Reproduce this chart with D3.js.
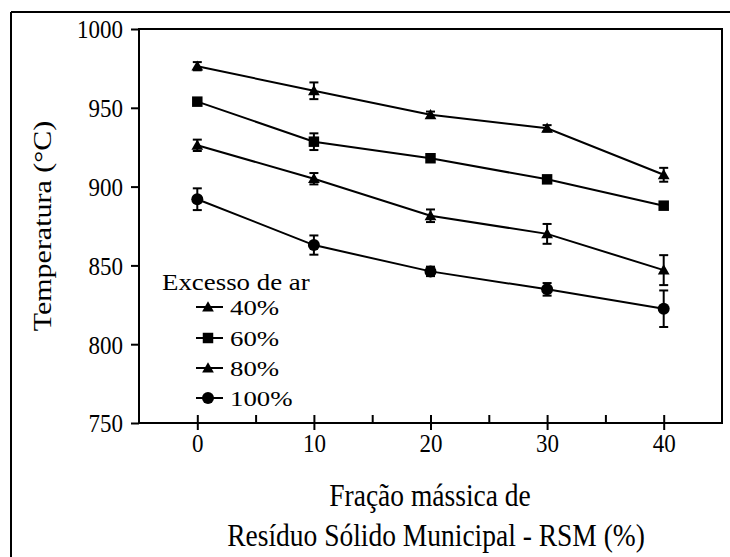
<!DOCTYPE html>
<html><head><meta charset="utf-8">
<script src="https://cdn.jsdelivr.net/npm/d3@7"></script>
<style>
html,body{margin:0;padding:0;background:#fff;}
svg{display:block;}
text{font-family:"Liberation Serif","Times New Roman",serif;fill:#000;}
</style></head>
<body>
<svg id="c" width="730" height="557"></svg>
<script>
const xValues = [0, 10, 20, 30, 40];
const seriesNames = ["40%", "60%", "80%", "100%"];
const seriesSymbols = ["triangle", "square", "triangle", "circle"];
const t40 = [976.4, 960.8, 945.6, 937.0, 907.5];
const e40 = [2.6, 5.3, 2.0, 2.0, 4.4];
const t60 = [953.9, 928.5, 918.0, 904.6, 887.9];
const e60 = [1.5, 5.3, 2.0, 2.0, 2.0];
const t80 = [926.2, 905.0, 881.5, 870.0, 847.0];
const e80 = [3.6, 3.6, 4.0, 6.3, 9.5];
const t100 = [892.0, 862.9, 846.2, 834.8, 822.5];
const e100 = [6.9, 6.1, 3.0, 4.0, 11.6];
const yTicks = [750, 800, 850, 900, 950, 1000];
const xTicks = [0, 10, 20, 30, 40];
const xMinorTicks = [5, 15, 25, 35];
const legendTitle = "Excesso de ar";
const yTitle = "Temperatura (°C)";
const xTitle1 = "Fração mássica de";
const xTitle2 = "Resíduo Sólido Municipal - RSM (%)";

const values = [t40, t60, t80, t100];
const errors = [e40, e60, e80, e100];

const svg = d3.select("#c");
const L = 139, R = 722, T = 29, B = 423;
const x = d3.scaleLinear().domain([-5, 45]).range([L, R]);
const y = d3.scaleLinear().domain([750, 1000]).range([B, T]);

// outer frame (left + top)
svg.append("line").attr("x1", 11).attr("x2", 11).attr("y1", 12).attr("y2", 557)
  .attr("stroke", "#000").attr("stroke-width", 2);
svg.append("line").attr("x1", 11).attr("x2", 730).attr("y1", 12).attr("y2", 12)
  .attr("stroke", "#000").attr("stroke-width", 2);

// plot box
svg.append("rect").attr("x", L).attr("y", T).attr("width", R - L).attr("height", B - T)
  .attr("fill", "none").attr("stroke", "#000").attr("stroke-width", 2);

// y axis
const gy = svg.append("g").attr("transform", `translate(${L},0)`)
  .call(d3.axisLeft(y).tickValues(yTicks).tickSize(8).tickPadding(8).tickFormat(d3.format("d")));
gy.select(".domain").remove();
gy.selectAll(".tick line").attr("stroke-width", 2);
gy.selectAll(".tick text").attr("font-size", 23).attr("dy", null)
  .attr("transform", "scale(1,1.12)").attr("y", 0)
  .attr("dominant-baseline", "central");

// x axis major (down)
const gx = svg.append("g").attr("transform", `translate(0,${B})`)
  .call(d3.axisBottom(x).tickValues(xTicks).tickSize(7).tickPadding(6).tickFormat(d3.format("d")));
gx.select(".domain").remove();
gx.selectAll(".tick line").attr("stroke-width", 2);
gx.selectAll(".tick text").attr("font-size", 23).attr("dy", null).attr("y", 0)
  .attr("transform", "translate(0,29) scale(1,1.12)");
// x axis major (up)
const gx2 = svg.append("g").attr("transform", `translate(0,${B})`)
  .call(d3.axisBottom(x).tickValues(xTicks).tickSize(-8).tickFormat(""));
gx2.select(".domain").remove();
gx2.selectAll(".tick line").attr("stroke-width", 2);
// x minor (up)
const gx3 = svg.append("g").attr("transform", `translate(0,${B})`)
  .call(d3.axisBottom(x).tickValues(xMinorTicks).tickSize(-8).tickFormat(""));
gx3.select(".domain").remove();
gx3.selectAll(".tick line").attr("stroke-width", 2);

// series
const line = d3.line().x((d, i) => x(xValues[i])).y(d => y(d));
function drawSymbol(g, type, cx, cy) {
  if (type === "triangle") {
    g.append("path").attr("d", d3.symbol(d3.symbolTriangle, 60)())
      .attr("transform", `translate(${cx},${cy + 1})`).attr("fill", "#000");
  } else if (type === "square") {
    g.append("path").attr("d", d3.symbol(d3.symbolSquare, 110)())
      .attr("transform", `translate(${cx},${cy})`).attr("fill", "#000");
  } else {
    g.append("circle").attr("cx", cx).attr("cy", cy).attr("r", 6).attr("fill", "#000");
  }
}
values.forEach((vals, si) => {
  const g = svg.append("g");
  g.append("path").attr("d", line(vals)).attr("fill", "none")
    .attr("stroke", "#000").attr("stroke-width", 2);
  vals.forEach((v, i) => {
    const cx = x(xValues[i]), e = errors[si][i];
    const y1 = y(v + e), y2 = y(v - e);
    g.append("line").attr("x1", cx).attr("x2", cx).attr("y1", y1).attr("y2", y2)
      .attr("stroke", "#000").attr("stroke-width", 2);
    [y1, y2].forEach(yy => g.append("line").attr("x1", cx - 4.5).attr("x2", cx + 4.5)
      .attr("y1", yy).attr("y2", yy).attr("stroke", "#000").attr("stroke-width", 2));
    drawSymbol(g, seriesSymbols[si], cx, y(v));
  });
});

// legend
const lg = svg.append("g");
lg.append("text").attr("font-size", 24)
  .attr("transform", "translate(162,290) scale(1.12,1)").text(legendTitle);
const legY = [307, 338, 368, 398];
seriesNames.forEach((n, i) => {
  lg.append("line").attr("x1", 196).attr("x2", 223).attr("y1", legY[i]).attr("y2", legY[i])
    .attr("stroke", "#000").attr("stroke-width", 2);
  drawSymbol(lg, seriesSymbols[i], 208, legY[i]);
  lg.append("text").attr("font-size", 22)
    .attr("transform", `translate(230,${legY[i] + 8}) scale(1.22,1)`).text(n);
});

// axis titles
svg.append("text").attr("text-anchor", "middle").attr("font-size", 25)
  .attr("transform", "translate(51,226) rotate(-90) scale(1.2,1)").text(yTitle);
svg.append("text").attr("text-anchor", "middle").attr("font-size", 25)
  .attr("transform", "translate(430,506) scale(1.1,1.25)").text(xTitle1);
svg.append("text").attr("text-anchor", "middle").attr("font-size", 25)
  .attr("transform", "translate(436,546) scale(1.1,1.25)").text(xTitle2);
</script>
</body></html>
